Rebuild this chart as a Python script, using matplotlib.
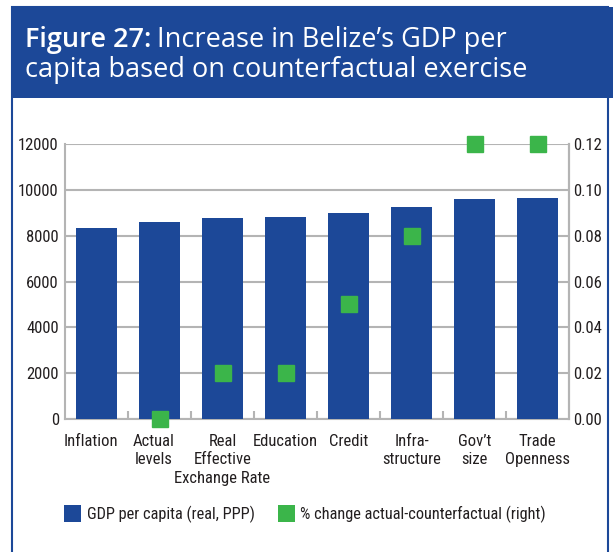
import numpy as np
import matplotlib
matplotlib.use("Agg")
import matplotlib.pyplot as plt
import matplotlib.transforms as mtransforms
from matplotlib.patches import Rectangle
from matplotlib import font_manager

categories = ["Inflation", "Actual\nlevels", "Real\nEffective\nExchange Rate", "Education",
              "Credit", "Infra-\nstructure", "Gov\u2019t\nsize", "Trade\nOpenness"]
gdp_per_capita = [8350, 8600, 8770, 8820, 9000, 9250, 9600, 9640]
pct_change = [np.nan, 0.00, 0.02, 0.02, 0.05, 0.08, 0.12, 0.12]
left_ticks = [0, 2000, 4000, 6000, 8000, 10000, 12000]
right_ticks = [0.00, 0.02, 0.04, 0.06, 0.08, 0.10, 0.12]

blue = "#1c4898"
green = "#3bb54a"
grid_grey = "#b4b4b4"
ink = "#231f20"

# condensed face for the chart text
names = set(f.name for f in font_manager.fontManager.ttflist)
if "Roboto Condensed" in names:
    narrow = dict(family=["Roboto Condensed", "DejaVu Sans"])
elif "Liberation Sans Narrow" in names:
    narrow = dict(family=["Liberation Sans Narrow", "DejaVu Sans"])
else:
    narrow = dict(family=["Roboto", "DejaVu Sans"], stretch="condensed")

W, H = 613, 552
fig = plt.figure(figsize=(W / 100, H / 100), dpi=100)


def fx(px):
    return px / W


def fy(py):
    return 1 - py / H


# frame and header band
fig.patches.append(Rectangle((fx(11.5), fy(560)), fx(596.5), fy(7) - fy(560), transform=fig.transFigure,
                             facecolor="white", edgecolor=blue, lw=1.5, zorder=-2))
fig.patches.append(Rectangle((fx(11), fy(98)), fx(602), fy(7) - fy(98), transform=fig.transFigure,
                             facecolor=blue, edgecolor="none", zorder=-1))

title_font = dict(family="Open Sans", fontsize=19.5, color="white", va="baseline")
t1 = fig.text(fx(25), fy(47), "Figure 27:", fontweight="semibold", **title_font)
fig.text(fx(25), fy(77.5), "capita based on counterfactual exercise", **title_font)
fig.canvas.draw()
bb = t1.get_window_extent()
fig.text(bb.x1 / W + fx(6), fy(47), "Increase in Belize\u2019s GDP per", **title_font)

ax = fig.add_axes([fx(65), fy(419), fx(569) - fx(65), fy(144) - fy(419)])
x = np.arange(len(categories))
ax.bar(x, gdp_per_capita, width=0.65, color=blue, zorder=3)
ax.set_xlim(-0.5, len(categories) - 0.5)
ax.set_ylim(0, 12000)
ax.set_yticks(left_ticks)
ax.set_yticklabels([str(v) for v in left_ticks], fontsize=12, color=ink, **narrow)
ax.yaxis.grid(True, color=grid_grey, lw=1.5, zorder=0)
ax.set_axisbelow(True)
ax.tick_params(axis="y", length=0, pad=4.5)
ax.set_xticks(x)
ax.set_xticklabels(categories, fontsize=12, color=ink, linespacing=1.3, **narrow)
ax.set_xticks(x[:-1] + 0.5, minor=True)
ax.tick_params(axis="x", which="major", length=0, pad=10.5)
ax.tick_params(axis="x", which="minor", length=6, direction="in", color=grid_grey, width=1.5)
# first two labels sit a little left of their bars
for lab in ax.get_xticklabels()[:2]:
    lab.set_transform(lab.get_transform() + mtransforms.ScaledTranslation(-6 / 100, 0, fig.dpi_scale_trans))
for s in ax.spines.values():
    s.set_color(grid_grey)
    s.set_linewidth(1.5)
ax.spines["top"].set_visible(False)

ax2 = ax.twinx()
ax2.plot(x, pct_change, "s", color=green, markersize=11.5, clip_on=False, zorder=5)
ax2.set_ylim(0, 0.12)
ax2.set_yticks(right_ticks)
ax2.set_yticklabels(["%.2f" % v for v in right_ticks], fontsize=12, color=ink, **narrow)
ax2.tick_params(axis="y", length=0, pad=3)
for s in ax2.spines.values():
    s.set_visible(False)
ax2.spines["right"].set_visible(True)
ax2.spines["right"].set_color(grid_grey)
ax2.spines["right"].set_linewidth(1.5)

# legend
fig.patches.append(Rectangle((fx(64), fy(522)), fx(17), fy(505) - fy(522), transform=fig.transFigure,
                             facecolor=blue, edgecolor="none"))
fig.text(fx(87), fy(514), "GDP per capita (real, PPP)", fontsize=11.8,
         color=ink, va="center", **narrow)
fig.patches.append(Rectangle((fx(278), fy(522)), fx(17), fy(505) - fy(522), transform=fig.transFigure,
                             facecolor=green, edgecolor="none"))
fig.text(fx(300), fy(514), "% change actual-counterfactual (right)", fontsize=11.8,
         color=ink, va="center", **narrow)

fig.savefig("out.png", dpi=100)
